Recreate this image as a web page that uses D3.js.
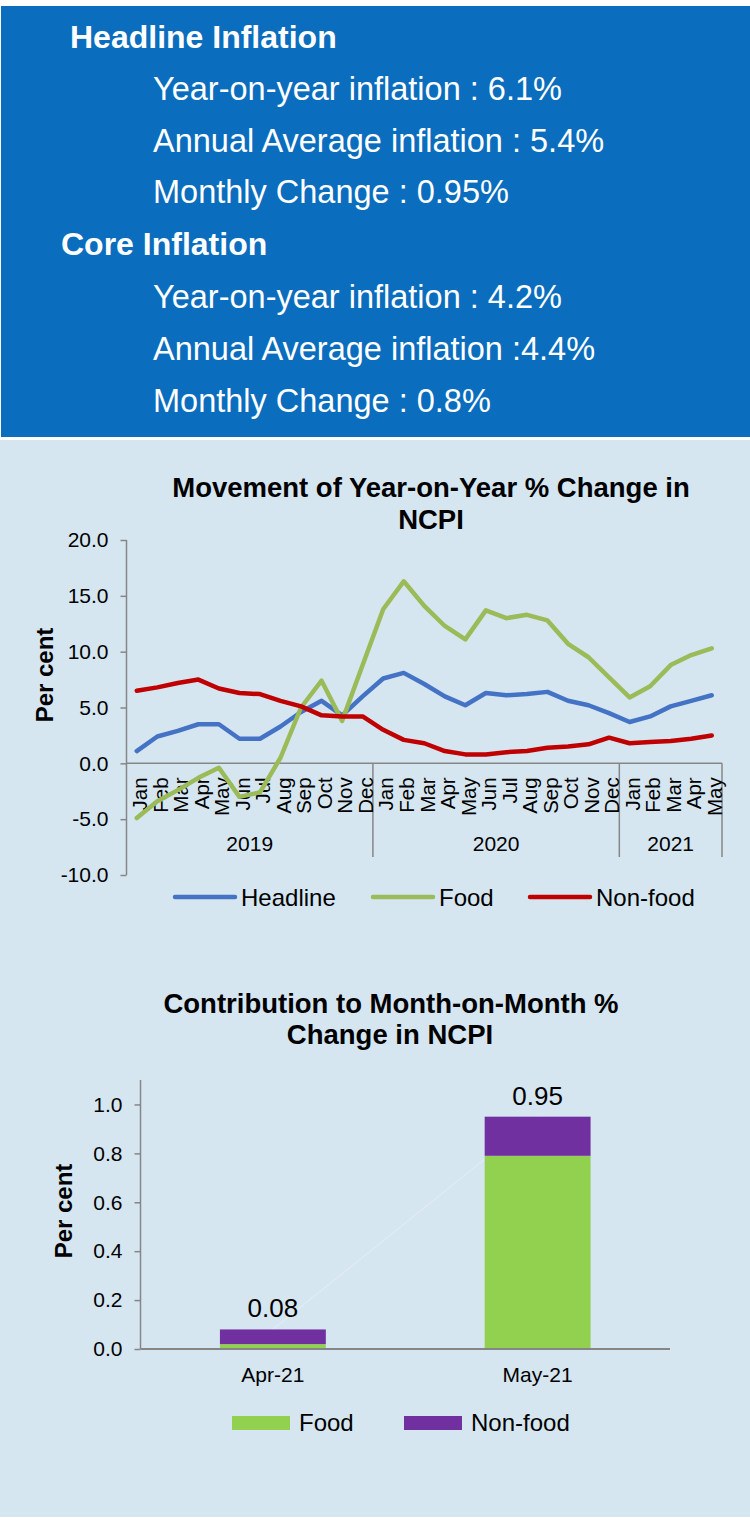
<!DOCTYPE html>
<html>
<head>
<meta charset="utf-8">
<script src="https://cdn.jsdelivr.net/npm/d3@7"></script>
<style>
  html, body { margin: 0; padding: 0; background: #ffffff; }
  svg text { font-family: "Liberation Sans", Arial, sans-serif; }
</style>
</head>
<body>
<svg id="chart" width="750" height="1532"></svg>
<script>
// ---------- data ----------
const headerHeadline = ["Year-on-year inflation : 6.1%", "Annual Average inflation : 5.4%", "Monthly Change : 0.95%"];
const headerCore = ["Year-on-year inflation : 4.2%", "Annual Average inflation :4.4%", "Monthly Change : 0.8%"];

const months = ["Jan","Feb","Mar","Apr","May","Jun","Jul","Aug","Sep","Oct","Nov","Dec",
                "Jan","Feb","Mar","Apr","May","Jun","Jul","Aug","Sep","Oct","Nov","Dec",
                "Jan","Feb","Mar","Apr","May"];
const monthYears = ["2019","2019","2019","2019","2019","2019","2019","2019","2019","2019","2019","2019",
                    "2020","2020","2020","2020","2020","2020","2020","2020","2020","2020","2020","2020",
                    "2021","2021","2021","2021","2021"];
const years = ["2019","2020","2021"];

const headline = [1.1,2.4,2.9,3.5,3.5,2.2,2.2,3.3,4.6,5.6,4.3,6.0,
                  7.6,8.1,7.1,6.0,5.2,6.3,6.1,6.2,6.4,5.6,5.2,4.5,
                  3.7,4.2,5.1,5.6,6.1];
const food = [-4.9,-3.4,-2.4,-1.3,-0.4,-3.0,-2.6,0.5,5.0,7.4,3.8,8.8,
              13.8,16.3,14.1,12.3,11.1,13.7,13.0,13.3,12.8,10.7,9.5,7.7,
              5.9,6.9,8.8,9.7,10.3];
const nonFood = [6.5,6.8,7.2,7.5,6.7,6.3,6.2,5.6,5.1,4.3,4.2,4.2,
                 3.0,2.1,1.8,1.1,0.8,0.8,1.0,1.1,1.4,1.5,1.7,2.3,
                 1.8,1.9,2.0,2.2,2.5];
const lineTicks = [-10, -5, 0, 5, 10, 15, 20];

const barCats = ["Apr-21", "May-21"];
const foodContrib = [0.02, 0.79];
const nonFoodContrib = [0.06, 0.16];
const totalContrib = [0.08, 0.95];
const barTicks = [0, 0.2, 0.4, 0.6, 0.8, 1.0];

// ---------- drawing ----------
const svg = d3.select("#chart");
const AXIS = "#868686";

// header box
svg.append("rect").attr("x", 1).attr("y", 6).attr("width", 749).attr("height", 431).attr("fill", "#0B6DBD");
svg.append("text").attr("x", 70).attr("y", 48).attr("fill", "#fff").attr("font-size", 32).attr("font-weight", "bold").text("Headline Inflation");
svg.selectAll(".hh").data(headerHeadline).enter().append("text")
  .attr("x", 153).attr("y", (d, i) => 100 + i * 51.7).attr("fill", "#fff").attr("font-size", 32.5).text(d => d);
svg.append("text").attr("x", 61).attr("y", 255).attr("fill", "#fff").attr("font-size", 32).attr("font-weight", "bold").text("Core Inflation");
svg.selectAll(".hc").data(headerCore).enter().append("text")
  .attr("x", 153).attr("y", (d, i) => 308.3 + i * 51.7).attr("fill", "#fff").attr("font-size", 32.5).text(d => d);

// panel
svg.append("rect").attr("x", 0).attr("y", 440).attr("width", 750).attr("height", 1077).attr("fill", "#D5E6F0");

// ---------- line chart ----------
const cats = months.map((m, i) => monthYears[i] + "-" + m);
const x = d3.scaleBand().domain(cats).range([126.5, 722]);
const y = d3.scaleLinear().domain([-10, 20]).range([875, 540]);

const lc = svg.append("g");
lc.append("text").attr("x", 431).attr("y", 497).attr("text-anchor", "middle").attr("font-size", 27.5).attr("font-weight", "bold").text("Movement of Year-on-Year % Change in");
lc.append("text").attr("x", 431).attr("y", 528.5).attr("text-anchor", "middle").attr("font-size", 27.5).attr("font-weight", "bold").text("NCPI");

const yAx = lc.append("g").attr("transform", "translate(126.5,0)")
  .call(d3.axisLeft(y).tickValues(lineTicks).tickFormat(d3.format(".1f")).tickSize(6).tickPadding(12));
yAx.select(".domain").attr("stroke", AXIS).attr("stroke-width", 1.5).attr("d", "M0," + y(-10) + "V" + y(20));
yAx.selectAll(".tick line").attr("stroke", AXIS).attr("stroke-width", 1.5);
yAx.selectAll(".tick text").attr("font-size", 21).attr("fill", "#000").attr("font-family", "Liberation Sans, Arial, sans-serif");
yAx.selectAll(".tick text").text(d => d3.format(".1f")(d).replace("−", "-"));

// zero axis
lc.append("line").attr("x1", 126.5).attr("x2", 722).attr("y1", y(0)).attr("y2", y(0)).attr("stroke", AXIS).attr("stroke-width", 1.5);

// year separators
const sepX = [x.range()[0]];
years.forEach(yr => {
  const idx = monthYears.lastIndexOf(yr);
  sepX.push(x(cats[idx]) + x.bandwidth());
});
lc.selectAll(".sep").data(sepX.slice(1)).enter().append("line")
  .attr("x1", d => d).attr("x2", d => d).attr("y1", y(0)).attr("y2", 857)
  .attr("stroke", AXIS).attr("stroke-width", 1.5);

// month labels
lc.selectAll(".mlab").data(cats).enter().append("text")
  .attr("transform", d => "translate(" + (x(d) + x.bandwidth() / 2) + "," + (y(0) + 14) + ") rotate(-90)")
  .attr("text-anchor", "end").attr("dy", "0.5em").attr("font-size", 20.5)
  .text((d, i) => months[i]);

// year labels
lc.selectAll(".ylab").data(years).enter().append("text")
  .attr("x", (d, i) => (sepX[i] + sepX[i + 1]) / 2).attr("y", 851)
  .attr("text-anchor", "middle").attr("font-size", 21).text(d => d);

// y title
lc.append("text").attr("transform", "translate(53," + 675 + ") rotate(-90)")
  .attr("text-anchor", "middle").attr("font-size", 24).attr("font-weight", "bold").text("Per cent");

const series = [
  { name: "Headline", values: headline, color: "#4472C4" },
  { name: "Food", values: food, color: "#9BBB59" },
  { name: "Non-food", values: nonFood, color: "#C00000" }
];
const line = d3.line().x((d, i) => x(cats[i]) + x.bandwidth() / 2).y(d => y(d));
lc.selectAll(".series").data(series).enter().append("path")
  .attr("d", d => line(d.values)).attr("fill", "none").attr("stroke", d => d.color)
  .attr("stroke-width", 4.5).attr("stroke-linejoin", "round").attr("stroke-linecap", "round");

// legend
const legX = [175, 373, 530];
const leg = lc.selectAll(".leg").data(series).enter().append("g")
  .attr("transform", (d, i) => "translate(" + legX[i] + ",897)");
leg.append("line").attr("x1", 0).attr("x2", 60).attr("y1", 0).attr("y2", 0)
  .attr("stroke", d => d.color).attr("stroke-width", 4.5).attr("stroke-linecap", "round");
leg.append("text").attr("x", 66).attr("y", 8.5).attr("font-size", 24).text(d => d.name);

// ---------- bar chart ----------
const bc = svg.append("g");
bc.append("text").attr("x", 391).attr("y", 1013).attr("text-anchor", "middle").attr("font-size", 27.5).attr("font-weight", "bold").text("Contribution to Month-on-Month %");
bc.append("text").attr("x", 390).attr("y", 1044).attr("text-anchor", "middle").attr("font-size", 27.5).attr("font-weight", "bold").text("Change in NCPI");

const bx = d3.scaleBand().domain(barCats).range([140.5, 670]).paddingInner(0.6).paddingOuter(0.3);
const by = d3.scaleLinear().domain([0, 1.1]).range([1349, 1080]);

const byAx = bc.append("g").attr("transform", "translate(140.5,0)")
  .call(d3.axisLeft(by).tickValues(barTicks).tickFormat(d3.format(".1f")).tickSize(6).tickPadding(12));
byAx.select(".domain").attr("stroke", AXIS).attr("stroke-width", 1.5).attr("d", "M0," + by(0) + "V" + by(1.1));
byAx.selectAll(".tick line").attr("stroke", AXIS).attr("stroke-width", 1.5);
byAx.selectAll(".tick text").attr("font-size", 21).attr("fill", "#000").attr("font-family", "Liberation Sans, Arial, sans-serif");

bc.append("text").attr("transform", "translate(72,1211) rotate(-90)")
  .attr("text-anchor", "middle").attr("font-size", 24).attr("font-weight", "bold").text("Per cent");

// faint total line (behind bars)
const totLine = d3.line().x((d, i) => bx(barCats[i]) + bx.bandwidth() / 2).y(d => by(d));
bc.append("path").attr("d", totLine(totalContrib)).attr("fill", "none")
  .attr("stroke", "#ffffff").attr("stroke-opacity", 0.22).attr("stroke-width", 1.5);

// stacked bars
const stackRows = barCats.map((c, i) => ({ cat: c, Food: foodContrib[i], "Non-food": nonFoodContrib[i] }));
const stacked = d3.stack().keys(["Food", "Non-food"])(stackRows);
const barColors = { "Food": "#92D050", "Non-food": "#7030A0" };
bc.selectAll(".layer").data(stacked).enter().append("g").attr("fill", d => barColors[d.key])
  .selectAll("rect").data(d => d).enter().append("rect")
  .attr("x", d => bx(d.data.cat)).attr("width", bx.bandwidth())
  .attr("y", d => by(d[1])).attr("height", d => by(d[0]) - by(d[1]));

// x axis
bc.append("line").attr("x1", 140.5).attr("x2", 670).attr("y1", by(0)).attr("y2", by(0)).attr("stroke", AXIS).attr("stroke-width", 2);
bc.selectAll(".bcat").data(barCats).enter().append("text")
  .attr("x", d => bx(d) + bx.bandwidth() / 2).attr("y", 1382).attr("text-anchor", "middle").attr("font-size", 21).text(d => d);

// total labels
bc.selectAll(".tot").data(totalContrib).enter().append("text")
  .attr("x", (d, i) => bx(barCats[i]) + bx.bandwidth() / 2).attr("y", d => by(d) - 12)
  .attr("text-anchor", "middle").attr("font-size", 26).text(d => d3.format(".2f")(d));

// bar legend
const bleg = [{ k: "Food", x: 232 }, { k: "Non-food", x: 404 }];
const bl = bc.selectAll(".bleg").data(bleg).enter().append("g").attr("transform", d => "translate(" + d.x + ",1416)");
bl.append("rect").attr("width", 58).attr("height", 14).attr("fill", d => barColors[d.k]);
bl.append("text").attr("x", 67).attr("y", 15).attr("font-size", 24).text(d => d.k);
</script>
</body>
</html>
